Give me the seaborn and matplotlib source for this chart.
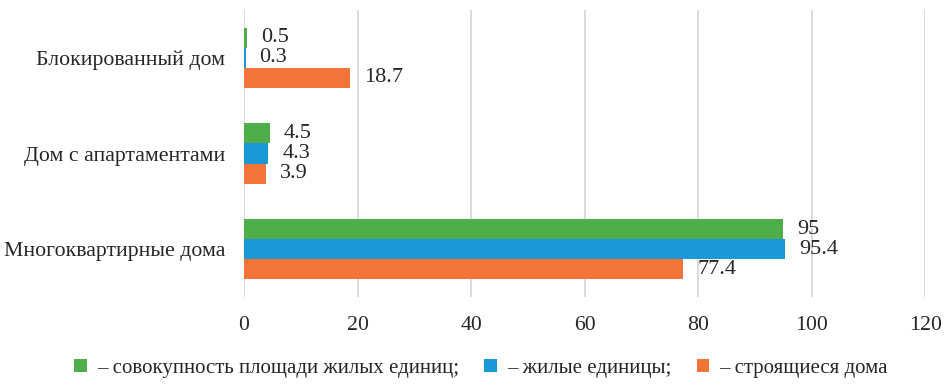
import pandas as pd
import matplotlib
matplotlib.use("Agg")
import matplotlib.pyplot as plt
import seaborn as sns

# Data
categories = ["Блокированный дом", "Дом с апартаментами", "Многоквартирные дома"]
series = [
    "– совокупность площади жилых единиц;",
    "– жилые единицы;",
    "– строящиеся дома",
]
area_units = [0.5, 4.5, 95]
living_units = [0.3, 4.3, 95.4]
under_construction = [18.7, 3.9, 77.4]

colors = ["#4DAE4A", "#1A98D8", "#F07536"]

rows = []
for s, vals in zip(series, [area_units, living_units, under_construction]):
    for c, v in zip(categories, vals):
        rows.append({"category": c, "series": s, "value": v})
df = pd.DataFrame(rows)

sns.set_style("white")
plt.rcParams["font.family"] = ["Liberation Serif", "DejaVu Serif"]

fig = plt.figure(figsize=(9.47, 3.85), dpi=100)
ax = fig.add_axes([244 / 947, 1 - 297 / 385, (925 - 244) / 947, 287 / 385])

sns.barplot(
    data=df,
    y="category",
    x="value",
    hue="series",
    order=categories,
    hue_order=series,
    palette=colors,
    orient="h",
    width=0.63,
    saturation=1,
    linewidth=0,
    ax=ax,
)

for cont in ax.containers:
    ax.bar_label(cont, fmt="%g", padding=10, fontsize=16)

ax.set_xlim(0, 120)
ax.set_xticks(range(0, 121, 20))
ax.grid(axis="x", color="#d4d4d4", linewidth=1.2)
ax.set_axisbelow(True)
for sp in ax.spines.values():
    sp.set_visible(False)
ax.set_xlabel("")
ax.set_ylabel("")
ax.tick_params(axis="both", length=0, labelsize=15.7)
ax.tick_params(axis="x", pad=14)
ax.tick_params(axis="y", pad=13.5)

handles, labels = ax.get_legend_handles_labels()
ax.legend_.remove()
fig.legend(
    handles, labels,
    loc="center", bbox_to_anchor=(0.508, 1 - 368 / 385),
    ncol=3, frameon=False, fontsize=15,
    handlelength=0.6, handleheight=0.6, handletextpad=0.5,
    columnspacing=1.2,
)

fig.savefig("out.png", dpi=100)
